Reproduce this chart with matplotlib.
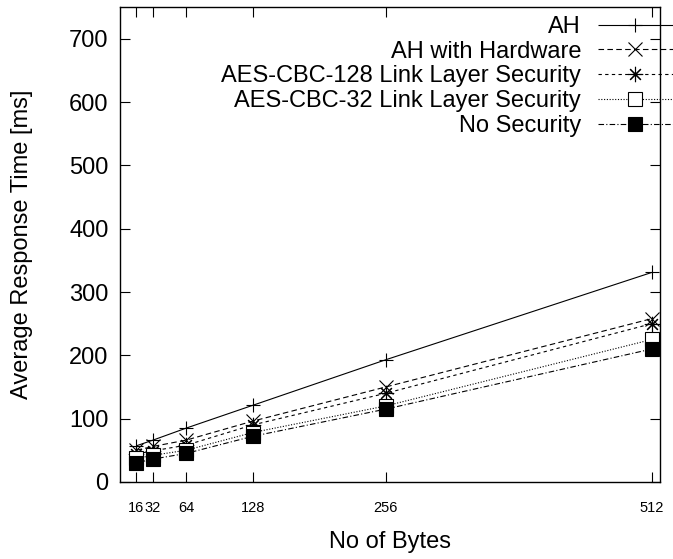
import matplotlib
matplotlib.use("Agg")
import matplotlib.pyplot as plt

plt.rcParams['font.family'] = ['Liberation Sans', 'DejaVu Sans']

# message sizes
nbytes = [16, 32, 64, 128, 256, 512]

# average response times (ms)
ah = [57, 66, 85, 121, 193, 331]
ah_hw = [50, 56, 66, 96, 150, 258]
aes128 = [44, 49, 58, 90, 140, 250]
aes32 = [37, 42, 50, 78, 120, 225]
nosec = [30, 36, 45, 72, 115, 210]

series = [
    ("AH", ah, "+", "none", (0, ()), 10),
    ("AH with Hardware", ah_hw, "x", "none", (0, (5, 3)), 10),
    ("AES-CBC-128 Link Layer Security", aes128, (8, 2, 0), "none", (0, (3, 3)), 11),
    ("AES-CBC-32 Link Layer Security", aes32, "s", "white", (0, (1, 1.5)), 10),
    ("No Security", nosec, "s", "black", (0, (5, 2, 1, 2)), 10),
]

fig = plt.figure(figsize=(6.73, 5.59), dpi=100)
ax = fig.add_axes([0.178, 0.138, 0.803, 0.849])

for name, vals, mk, mfc, ls, ms in series:
    ax.plot(nbytes, vals, color="black", lw=0.8, linestyle=ls, marker=mk,
            markersize=ms, markerfacecolor=mfc, markeredgecolor="black",
            markeredgewidth=0.8, label=name, clip_on=False)

ax.set_xlim(0, 520)
ax.set_ylim(0, 750)
ax.set_xticks(nbytes)
ax.set_xticklabels([str(v) for v in nbytes], fontsize=10.5)
ax.set_yticks(range(0, 701, 100))
ax.tick_params(axis="y", labelsize=17, pad=8)
ax.tick_params(direction="in", length=7, width=0.8, top=True, right=True)
ax.tick_params(axis="x", pad=14)
for s in ax.spines.values():
    s.set_linewidth(1.0)

ax.set_xlabel("No of Bytes", fontsize=17, labelpad=11)
ax.set_ylabel("Average Response Time [ms]", fontsize=17, labelpad=26)

leg = ax.legend(loc="upper right", bbox_to_anchor=(1.024, 0.982), frameon=False,
                markerfirst=False, fontsize=17, handlelength=3.2, handletextpad=0.7,
                labelspacing=0.12, borderpad=0, borderaxespad=0)
for t in leg.get_texts():
    t.set_ha("right")

fig.savefig("out.png", dpi=100)
